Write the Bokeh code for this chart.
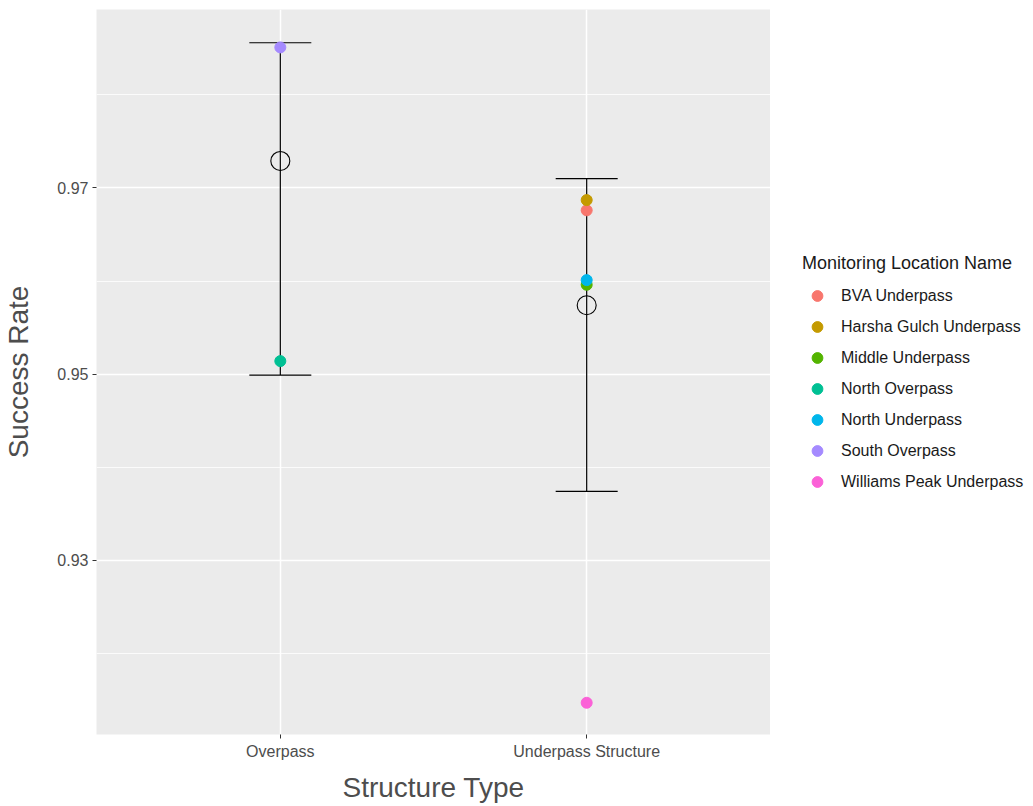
from bokeh.plotting import figure
from bokeh.layouts import row
from bokeh.models import (ColumnDataSource, FactorRange, FixedTicker, Whisker, TeeHead,
                          Legend, LegendItem, Range1d)
from bokeh.embed import file_html
from bokeh.resources import INLINE

# ---- data ----
categories = ["Overpass", "Underpass Structure"]
locations = ["BVA Underpass", "Harsha Gulch Underpass", "Middle Underpass", "North Overpass",
             "North Underpass", "South Overpass", "Williams Peak Underpass"]
location_type = ["Underpass Structure", "Underpass Structure", "Underpass Structure", "Overpass",
                 "Underpass Structure", "Overpass", "Underpass Structure"]
success_rate = [0.9676, 0.9687, 0.9596, 0.9514, 0.9601, 0.9851, 0.9147]
colors = ["#F8766D", "#C49A00", "#53B400", "#00C094", "#00B6EB", "#A58AFF", "#FB61D7"]

mean_rate = [0.9729, 0.9574]
lower = [0.9499, 0.9374]
upper = [0.9856, 0.9710]

y_ticks = [0.93, 0.95, 0.97]
y_minor = [0.92, 0.94, 0.96, 0.98]

FONT = "Liberation Sans"

pts = ColumnDataSource(dict(x=location_type, y=success_rate, loc=locations, color=colors))
summ = ColumnDataSource(dict(x=categories, mean=mean_rate, lower=lower, upper=upper))

p = figure(frame_width=674, frame_height=725, output_backend="svg", toolbar_location=None,
           x_range=FactorRange(*categories, range_padding=0.1, range_padding_units="absolute"),
           y_range=Range1d(0.91129, 0.98917),
           min_border_left=96, min_border_right=0, min_border_top=9, min_border_bottom=68)

p.background_fill_color = "#EBEBEB"
p.outline_line_color = None

# grids
p.xgrid.grid_line_color = "white"
p.xgrid.grid_line_width = 1.5
p.ygrid.grid_line_color = "white"
p.ygrid.grid_line_width = 1.5
p.ygrid.minor_grid_line_color = "white"
p.ygrid.minor_grid_line_width = 0.8

p.yaxis.ticker = FixedTicker(ticks=y_ticks, minor_ticks=y_minor)

for ax in (p.xaxis[0], p.yaxis[0]):
    ax.axis_line_color = None
    ax.major_tick_line_color = "#333333"
    ax.major_tick_out = 4
    ax.major_tick_in = 0
    ax.minor_tick_line_color = None
    ax.major_label_text_font = FONT
    ax.major_label_text_font_size = "16px"
    ax.major_label_text_color = "#4D4D4D"
    ax.major_label_standoff = 4
    ax.axis_label_text_font = FONT
    ax.axis_label_text_font_size = "28px"
    ax.axis_label_text_font_style = "normal"
    ax.axis_label_text_color = "#4D4D4D"

p.xaxis.axis_label = "Structure Type"
p.yaxis.axis_label = "Success Rate"
p.xaxis.axis_label_standoff = 9
p.yaxis.axis_label_standoff = 20

# points
r_pts = p.scatter(x="x", y="y", source=pts, size=11, marker="circle",
                  fill_color="color", line_color="color")

# error bars
wh = Whisker(base="x", lower="lower", upper="upper", source=summ, dimension="height",
             line_color="black", line_width=1.2,
             upper_head=TeeHead(size=62, line_color="black", line_width=1.2),
             lower_head=TeeHead(size=62, line_color="black", line_width=1.2))
p.add_layout(wh)

# means
p.scatter(x="x", y="mean", source=summ, size=19, marker="circle",
          fill_color=None, line_color="black", line_width=1.1, level="overlay")

# ---- legend panel (separate figure hosting a real Legend) ----
lf = figure(width=257, height=802, output_backend="svg", toolbar_location=None,
            x_range=FactorRange(*categories), y_range=Range1d(0, 0.5),
            x_axis_type=None, y_axis_type=None,
            min_border=0)
lf.outline_line_color = None
lf.xgrid.visible = False
lf.ygrid.visible = False
# same points, lying outside this panel's visible range: only feed the legend keys
r_leg = lf.scatter(x="x", y="y", source=pts, size=11, marker="circle",
                   fill_color="color", line_color="color")

items = [LegendItem(label=loc, renderers=[r_leg], index=i) for i, loc in enumerate(locations)]
legend = Legend(items=items, location=(32, 236), title="Monitoring Location Name",
                orientation="vertical", ncols=1,
                title_text_font=FONT, title_text_font_size="18px", title_text_color="#1A1A1A",
                title_text_font_style="normal", title_standoff=8,
                label_text_font=FONT, label_text_font_size="16px", label_text_color="#1A1A1A",
                glyph_width=30, glyph_height=27, label_height=27, spacing=4,
                label_standoff=9, padding=5, margin=0,
                border_line_color=None, background_fill_alpha=0)
lf.add_layout(legend)

open("out.html", "w").write(file_html(row(p, lf), INLINE))
